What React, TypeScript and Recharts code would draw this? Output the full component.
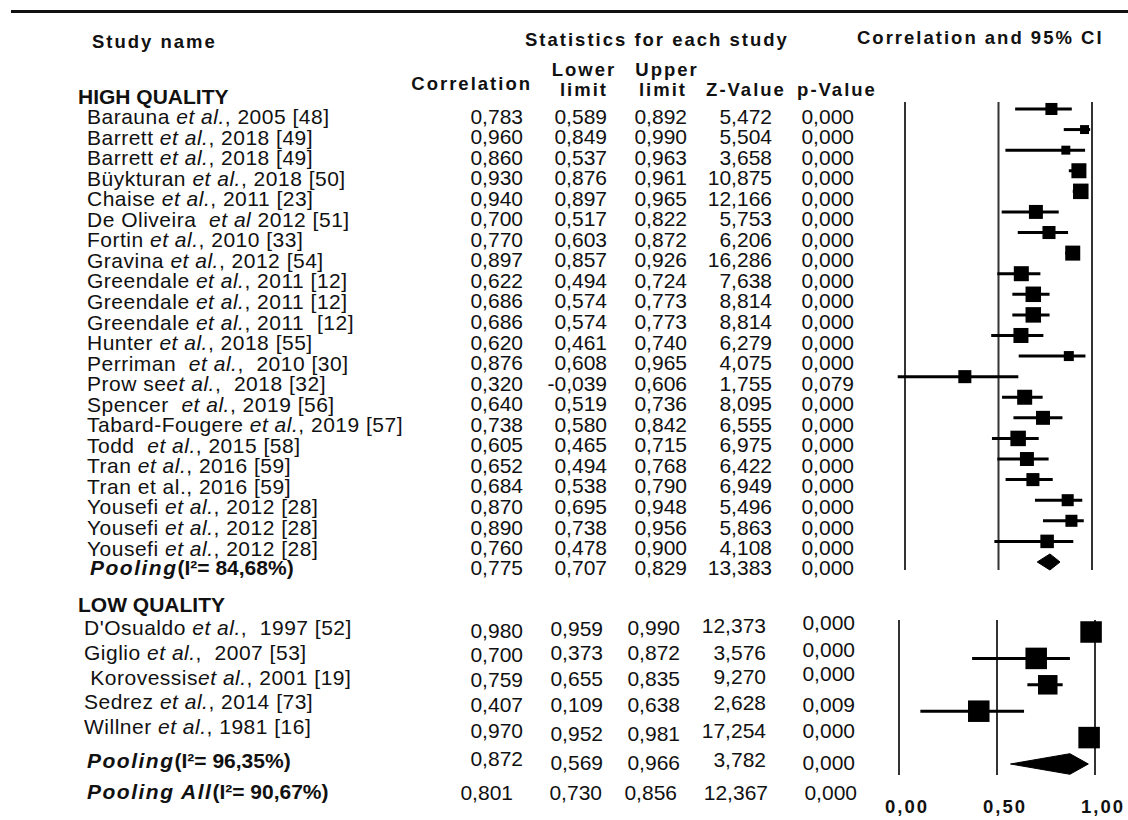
import React from "react"
import { ScatterChart, Scatter, XAxis, YAxis, ErrorBar, ReferenceLine } from "recharts"

const FONT = '"Liberation Sans", Arial, Helvetica, sans-serif'
const INK = "#111"

// HIGH QUALITY studies ("|" toggles italic)
const highNames = [
  "Barauna |et al.|, 2005 [48]",
  "Barrett |et al.|, 2018 [49]",
  "Barrett |et al.|, 2018 [49]",
  "Büykturan |et al.|, 2018 [50]",
  "Chaise |et al.|, 2011 [23]",
  "De Oliveira  |et al| 2012 [51]",
  "Fortin |et al.|, 2010 [33]",
  "Gravina |et al.|, 2012 [54]",
  "Greendale |et al.|, 2011 [12]",
  "Greendale |et al.|, 2011 [12]",
  "Greendale |et al.|, 2011  [12]",
  "Hunter |et al.|, 2018 [55]",
  "Perriman  |et al.|,  2010 [30]",
  "Prow se|et al.|,  2018 [32]",
  "Spencer  |et al.|, 2019 [56]",
  "Tabard-Fougere |et al.|, 2019 [57]",
  "Todd  |et al.|, 2015 [58]",
  "Tran |et al.|, 2016 [59]",
  "Tran et al., 2016 [59]",
  "Yousefi |et al.|, 2012 [28]",
  "Yousefi |et al.|, 2012 [28]",
  "Yousefi |et al.|, 2012 [28]",
]
const highCorr = [0.783, 0.96, 0.86, 0.93, 0.94, 0.7, 0.77, 0.897, 0.622, 0.686, 0.686, 0.62, 0.876, 0.32, 0.64, 0.738, 0.605, 0.652, 0.684, 0.87, 0.89, 0.76]
const highLower = [0.589, 0.849, 0.537, 0.876, 0.897, 0.517, 0.603, 0.857, 0.494, 0.574, 0.574, 0.461, 0.608, -0.039, 0.519, 0.58, 0.465, 0.494, 0.538, 0.695, 0.738, 0.478]
const highUpper = [0.892, 0.99, 0.963, 0.961, 0.965, 0.822, 0.872, 0.926, 0.724, 0.773, 0.773, 0.74, 0.965, 0.606, 0.736, 0.842, 0.715, 0.768, 0.79, 0.948, 0.956, 0.9]
const highZ = [5.472, 5.504, 3.658, 10.875, 12.166, 5.753, 6.206, 16.286, 7.638, 8.814, 8.814, 6.279, 4.075, 1.755, 8.095, 6.555, 6.975, 6.422, 6.949, 5.496, 5.863, 4.108]
const highP = [0, 0, 0, 0, 0, 0, 0, 0, 0, 0, 0, 0, 0, 0.079, 0, 0, 0, 0, 0, 0, 0, 0]
// relative study weights (marker area)
const highWeight = [5.8, 3.2, 3.2, 9.0, 9.6, 7.8, 6.8, 9.0, 9.0, 9.6, 9.6, 9.0, 4.0, 6.8, 9.0, 7.8, 9.6, 7.8, 6.8, 5.8, 5.8, 7.3]
const highPooled = [0.775, 0.707, 0.829, 13.383, 0]
const highI2 = "84,68%"

// LOW QUALITY studies
const lowNames = [
  "D'Osualdo |et al.|,  1997 [52]",
  "Giglio |et al.|,  2007 [53]",
  " Korovessis|et al.|, 2001 [19]",
  "Sedrez |et al.|, 2014 [73]",
  "Willner |et al.|, 1981 [16]",
]
const lowCorr = [0.98, 0.7, 0.759, 0.407, 0.97]
const lowLower = [0.959, 0.373, 0.655, 0.109, 0.952]
const lowUpper = [0.99, 0.872, 0.835, 0.638, 0.981]
const lowZ = [12.373, 3.576, 9.27, 2.628, 17.254]
const lowP = [0, 0, 0, 0.009, 0]
const lowWeight = [18.5, 18.5, 15.2, 18.5, 18.5]
const lowPooled = [0.872, 0.569, 0.966, 3.782, 0]
const lowI2 = "96,35%"

const allPooled = [0.801, 0.73, 0.856, 12.367, 0]
const allI2 = "90,67%"

const axisTicks = [0, 0.5, 1]

const fmt3 = (v: number) => v.toFixed(3).replace(".", ",")
const fmt2 = (v: number) => v.toFixed(2).replace(".", ",")

const buildRows = (corr: number[], lo: number[], hi: number[], w: number[]) =>
  corr.map((c, i) => ({ x: c, y: i, w: w[i], err: [c - lo[i], hi[i] - c] }))

const buildDiamond = (p: number[], row: number, half: number) => [
  { x: p[1], y: row },
  { x: p[0], y: row - half },
  { x: p[2], y: row },
  { x: p[0], y: row + half },
]

const Square = (props: any) => {
  const { cx, cy, payload } = props
  const s = 5 * Math.sqrt(payload.w)
  return <rect x={cx - s / 2} y={cy - s / 2} width={s} height={s} fill="#000" />
}

const AxisTick = (props: any) => {
  const { x, y, payload } = props
  return (
    <text x={x + 8} y={y + 30} textAnchor="middle" fontFamily={FONT} fontWeight="bold" fontSize={18.5} letterSpacing={2} fill={INK}>
      {fmt2(payload.value)}
    </text>
  )
}

function ForestPanel(props: any) {
  const { left, top, width, height, margin, yDomain, rows, diamond, showAxis } = props
  return (
    <div style={{ position: "absolute", left, top }}>
      <ScatterChart width={width} height={height} margin={margin}>
        <XAxis
          type="number"
          dataKey="x"
          domain={[-0.1, 1.1]}
          ticks={axisTicks}
          hide={!showAxis}
          height={45}
          axisLine={false}
          tickLine={false}
          tick={<AxisTick />}
        />
        <YAxis type="number" dataKey="y" domain={yDomain} reversed hide />
        {axisTicks.map((t) => (
          <ReferenceLine key={t} x={t} stroke="#333" strokeWidth={2} />
        ))}
        <Scatter data={rows} shape={<Square />} isAnimationActive={false}>
          <ErrorBar dataKey="err" direction="x" width={0} strokeWidth={3} stroke="#000" />
        </Scatter>
        <Scatter
          data={diamond}
          shape={() => <g />}
          line={{ fill: "#000", stroke: "#000", strokeWidth: 1 }}
          lineType="joint"
          lineJointType="linearClosed"
          isAnimationActive={false}
        />
      </ScatterChart>
    </div>
  )
}

function Name({ x, y, name }: { x: number; y: number; name: string }) {
  const parts = name.split("|")
  return (
    <text x={x} y={y} dominantBaseline="central" fontFamily={FONT} fontSize={21} letterSpacing={0.5} fill={INK} style={{ whiteSpace: "pre" }}>
      {parts.map((p, i) => (
        <tspan key={i} fontStyle={i % 2 ? "italic" : "normal"}>{p}</tspan>
      ))}
    </text>
  )
}

function Pooling({ x, y, label, i2 }: { x: number; y: number; label: string; i2: string }) {
  return (
    <text x={x} y={y} dominantBaseline="central" fontFamily={FONT} fontSize={21} fontWeight="bold" fill={INK} style={{ whiteSpace: "pre" }}>
      <tspan fontStyle="italic" letterSpacing={1.5}>{label}</tspan>
      <tspan>{`(I²= ${i2})`}</tspan>
    </text>
  )
}

function Stats({ ys, cols, vals }: { ys: number[]; cols: number[]; vals: number[] }) {
  return (
    <>
      {vals.map((v, i) => (
        <text key={i} x={cols[i]} y={ys[i]} textAnchor="end" dominantBaseline="central" fontFamily={FONT} fontSize={21} fill={INK}>
          {fmt3(v)}
        </text>
      ))}
    </>
  )
}

const Head = (p: any) => (
  <text dominantBaseline="central" fontFamily={FONT} fontSize={18.5} fontWeight="bold" letterSpacing={2} fill={INK} {...p} />
)

export default function App() {
  const highRows = buildRows(highCorr, highLower, highUpper, highWeight)
  const lowRows = buildRows(lowCorr, lowLower, lowUpper, lowWeight)
  const highCols = [523, 607, 687, 772, 854]
  const lowCols = [523, 603, 680, 766, 855]
  const rowY = (i: number) => 116 + 20.55 * i
  const same = (y: number) => [y, y, y, y, y]
  // the lower table cells sit slightly off a common baseline in the source
  const lowCellY = [
    [630, 628, 627, 625, 622],
    [654, 652, 652, 652, 649],
    [679, 678, 678, 676, 673],
    [704, 704, 704, 702, 704],
    [730, 733, 733, 730, 730],
  ]
  const lowNameY = [627, 652, 677, 701, 726]

  return (
    <div style={{ position: "absolute", left: 0, top: 0, width: 1128, height: 820, background: "#fff", overflow: "hidden" }}>
      <svg width={1128} height={820} style={{ position: "absolute", left: 0, top: 0 }}>
        <line x1={11} x2={1128} y1={11.5} y2={11.5} stroke={INK} strokeWidth={3} />
        <Head x={92} y={41}>Study name</Head>
        <Head x={525} y={39}>Statistics for each study</Head>
        <Head x={857} y={37}>Correlation and 95% CI</Head>
        <Head x={532} y={83} textAnchor="end">Correlation</Head>
        <Head x={584} y={69} textAnchor="middle">Lower</Head>
        <Head x={584} y={89} textAnchor="middle">limit</Head>
        <Head x={667} y={69} textAnchor="middle">Upper</Head>
        <Head x={663} y={89} textAnchor="middle">limit</Head>
        <Head x={746} y={89} textAnchor="middle">Z-Value</Head>
        <Head x={837} y={89} textAnchor="middle">p-Value</Head>

        <text x={78} y={96} dominantBaseline="central" fontFamily={FONT} fontSize={21} fontWeight="bold" fill={INK}>HIGH QUALITY</text>
        {highNames.map((n, i) => (
          <Name key={i} x={87} y={rowY(i)} name={n} />
        ))}
        {highNames.map((_, i) => (
          <Stats key={i} ys={same(rowY(i))} cols={highCols} vals={[highCorr[i], highLower[i], highUpper[i], highZ[i], highP[i]]} />
        ))}
        <Pooling x={90} y={567} label="Pooling" i2={highI2} />
        <Stats ys={same(567)} cols={highCols} vals={highPooled} />

        <text x={78} y={604} dominantBaseline="central" fontFamily={FONT} fontSize={21} fontWeight="bold" fill={INK}>LOW QUALITY</text>
        {lowNames.map((n, i) => (
          <Name key={i} x={84} y={lowNameY[i]} name={n} />
        ))}
        {lowNames.map((_, i) => (
          <Stats key={i} ys={lowCellY[i]} cols={lowCols} vals={[lowCorr[i], lowLower[i], lowUpper[i], lowZ[i], lowP[i]]} />
        ))}
        <Pooling x={87} y={760} label="Pooling" i2={lowI2} />
        <Stats ys={[758, 762, 762, 759, 762]} cols={lowCols} vals={lowPooled} />
        <Pooling x={87} y={791} label="Pooling All" i2={allI2} />
        <Stats ys={same(792)} cols={[513, 602, 677, 768, 857]} vals={allPooled} />
      </svg>

      <ForestPanel
        left={860}
        top={92}
        width={268}
        height={490}
        margin={{ top: 10, right: 17.3, bottom: 12, left: 26.3 }}
        yDomain={[-0.3387, 22.306]}
        rows={highRows}
        diamond={buildDiamond(highPooled, highCorr.length, 0.39)}
        showAxis={false}
      />
      <ForestPanel
        left={860}
        top={608}
        width={268}
        height={212}
        margin={{ top: 12, right: 13.4, bottom: 0, left: 19.4 }}
        yDomain={[-0.4545, 5.417]}
        rows={lowRows}
        diamond={buildDiamond(lowPooled, lowCorr.length, 0.39)}
        showAxis={true}
      />
    </div>
  )
}
